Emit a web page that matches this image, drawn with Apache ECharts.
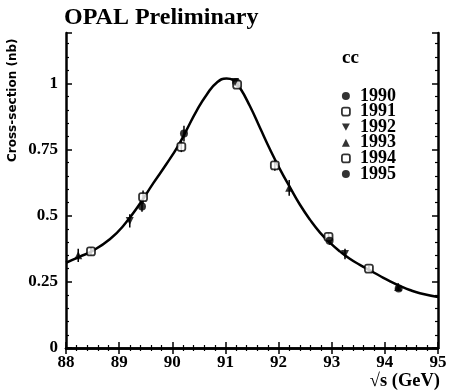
<!DOCTYPE html>
<html>
<head>
<meta charset="utf-8">
<script src="https://cdn.jsdelivr.net/npm/echarts@6/dist/echarts.min.js"></script>
<style>
  html, body { margin: 0; padding: 0; background: #fff; }
  #chart { width: 451px; height: 392px; }
</style>
</head>
<body>
<div id="chart"></div>
<script>
// fitted curve as [sqrt(s), sigma]
const curve = [
  [88.0, 0.322], [88.26, 0.345], [88.5, 0.367], [88.83, 0.412], [89.08, 0.462],
  [89.39, 0.545], [89.64, 0.622], [89.89, 0.695], [90.11, 0.764], [90.27, 0.824],
  [90.46, 0.897], [90.65, 0.958], [90.84, 1.003], [91.02, 1.018], [91.15, 1.012],
  [91.27, 0.984], [91.46, 0.914], [91.65, 0.832], [91.84, 0.75], [92.03, 0.674],
  [92.22, 0.605], [92.4, 0.542], [92.59, 0.485], [92.78, 0.436], [92.97, 0.397],
  [93.16, 0.364], [93.34, 0.337], [93.53, 0.314], [93.72, 0.293], [93.91, 0.272],
  [94.1, 0.252], [94.29, 0.234], [94.47, 0.219], [94.66, 0.207], [95.0, 0.193]
];

// measurements per year: [sqrt(s), sigma, error]
const years = ['1990', '1991', '1992', '1993', '1994', '1995'];
const pts1990 = [[90.22, 0.81, 0.03], [91.2, 1.005, 0.01]];
const pts1991 = [[90.17, 0.76, 0.02], [91.22, 0.995, 0.01]];
const pts1992 = [[89.2, 0.48, 0.025], [91.18, 1.005, 0.01], [93.25, 0.355, 0.02]];
const pts1993 = [[88.23, 0.35, 0.025], [92.2, 0.605, 0.03], [94.25, 0.23, 0.015]];
const pts1994 = [[88.47, 0.365, 0.015], [89.45, 0.57, 0.025], [91.93, 0.69, 0.02], [92.94, 0.42, 0.015], [93.7, 0.3, 0.01]];
const pts1995 = [[89.43, 0.535, 0.02], [92.96, 0.405, 0.015], [94.26, 0.225, 0.01]];
const yearPts = [pts1990, pts1991, pts1992, pts1993, pts1994, pts1995];

const downTri = 'path://M0,0 L10,0 L5,9 Z';
const symbols = ['circle', 'roundRect', downTri, 'triangle', 'roundRect', 'circle'];
const hollow = [false, true, false, false, true, false];

const xTicks = [88, 89, 90, 91, 92, 93, 94, 95];
const yTicks = [0, 0.25, 0.5, 0.75, 1];

const serif = '"Liberation Serif", "DejaVu Serif", serif';
const lbl = { color: '#000', fontFamily: serif, fontWeight: 'bold', fontSize: 17 };

const chart = echarts.init(document.getElementById('chart'), null, { renderer: 'canvas' });

const tickCommon = {
  axisLine: { show: true, lineStyle: { color: '#000', width: 2.5 } },
  axisTick: { show: true, inside: true, length: 6, lineStyle: { color: '#000', width: 1.5 } },
  minorTick: { show: true, splitNumber: 5, length: 3, lineStyle: { color: '#000', width: 1.2 } },
  splitLine: { show: false }
};

const markStyle = i => hollow[i]
  ? { color: '#fff', borderColor: '#000', borderWidth: 1.8 }
  : { color: '#000' };

const allPts = [].concat(...yearPts);

const series = [
  {
    type: 'line',
    data: curve,
    smooth: 0.5,
    showSymbol: false,
    lineStyle: { color: '#000', width: 2.5 },
    silent: true,
    z: 2
  },
  {
    type: 'custom',
    data: allPts,
    silent: true,
    z: 3,
    renderItem: function (params, api) {
      const x = api.value(0), y = api.value(1), e = api.value(2);
      const p1 = api.coord([x, y - e]);
      const p2 = api.coord([x, y + e]);
      return {
        type: 'line',
        shape: { x1: p1[0], y1: p1[1], x2: p2[0], y2: p2[1] },
        style: { stroke: '#000', lineWidth: 1.5 }
      };
    }
  }
];

years.forEach((yr, i) => {
  series.push({
    type: 'scatter',
    name: yr,
    data: yearPts[i].map(p => [p[0], p[1]]),
    symbol: symbols[i],
    symbolSize: 8,
    itemStyle: markStyle(i),
    z: 4
  });
});

chart.setOption({
  animation: false,
  grid: { left: 66, right: 13, top: 33, bottom: 44 },
  legend: {
    orient: 'vertical',
    left: 336,
    top: 82,
    data: years.map((y, i) => ({ name: y, icon: symbols[i], itemStyle: markStyle(i) })),
    itemWidth: 8,
    itemHeight: 8,
    itemGap: -2.4,
    selectedMode: false,
    textStyle: { color: '#000', fontFamily: serif, fontWeight: 'bold', fontSize: 18, padding: [0, 0, 0, 5] }
  },
  xAxis: [
    Object.assign({
      type: 'value', min: xTicks[0], max: xTicks[xTicks.length - 1], interval: 1,
      position: 'bottom',
      axisLabel: Object.assign({ margin: 6 }, lbl)
    }, tickCommon),
    Object.assign({
      type: 'value', min: xTicks[0], max: xTicks[xTicks.length - 1], interval: 1,
      position: 'top',
      axisLabel: { show: false }
    }, tickCommon)
  ],
  yAxis: [
    Object.assign({
      type: 'value', min: 0, max: 1.19, interval: 0.25,
      position: 'left',
      axisLabel: Object.assign({ margin: 8, formatter: v => (yTicks.indexOf(v) >= 0 ? String(v) : '') }, lbl)
    }, tickCommon),
    Object.assign({
      type: 'value', min: 0, max: 1.19, interval: 0.25,
      position: 'right',
      axisLabel: { show: false }
    }, tickCommon)
  ],
  graphic: [
    { type: 'text', left: 64, top: 6, style: { text: 'OPAL Preliminary', fill: '#000', font: 'bold 24px ' + serif } },
    { type: 'text', left: 342, top: 49, style: { text: 'cc', fill: '#000', font: 'bold 19px ' + serif } },
    { type: 'text', right: 11, top: 372, style: { text: '√s (GeV)', fill: '#000', font: 'bold 18.5px ' + serif } },
    {
      type: 'text', x: 7, y: 162, rotation: Math.PI / 2,
      style: { text: 'Cross-section (nb)', fill: '#000', font: 'bold 12px "DejaVu Sans", sans-serif', textAlign: 'left', textVerticalAlign: 'top' }
    }
  ],
  series: series
});
</script>
</body>
</html>
